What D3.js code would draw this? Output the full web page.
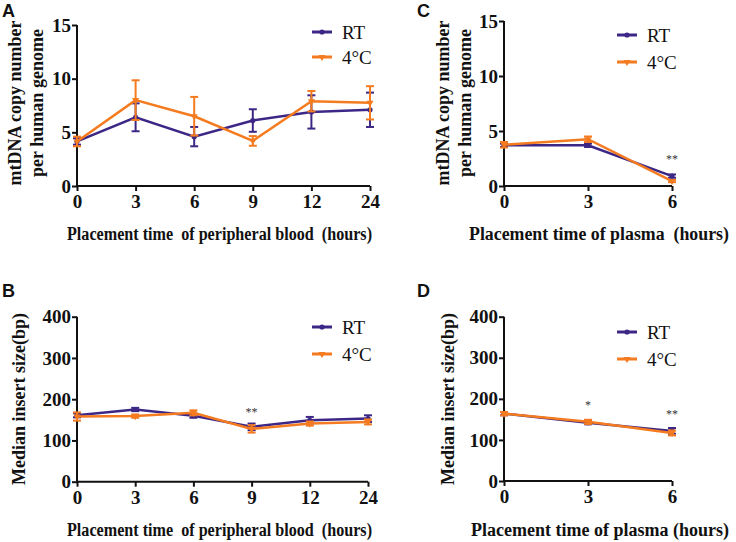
<!DOCTYPE html>
<html><head><meta charset="utf-8">
<script src="https://d3js.org/d3.v7.min.js"></script>
<style>
html,body{margin:0;padding:0;background:#fff;}
svg{display:block;}
text{font-family:"Liberation Serif","Times New Roman",serif;}
</style></head>
<body>
<script>
// ---- data ----
const timesBlood = ["0","3","6","9","12","24"];
const timesPlasma = ["0","3","6"];

const mtBloodRT = [4.15, 6.4, 4.6, 6.1, 6.9, 7.1];
const mtBloodRTsd = [0.3, 1.3, 0.9, 1.05, 1.55, 1.6];
const mtBlood4C = [4.15, 8.0, 6.5, 4.2, 7.9, 7.75];
const mtBlood4Csd = [0.45, 1.85, 1.8, 0.45, 0.95, 1.55];

const mtPlasmaRT = [3.7, 3.7, 0.9];
const mtPlasmaRTsd = [0.15, 0.15, 0.15];
const mtPlasma4C = [3.75, 4.25, 0.45];
const mtPlasma4Csd = [0.25, 0.25, 0.1];

const isBloodRT = [161, 175, 160, 133, 149, 153];
const isBloodRTsd = [5, 4, 5, 8, 8, 8];
const isBlood4C = [158, 159, 167, 128, 141, 145];
const isBlood4Csd = [10, 4, 6, 9, 5, 6];

const isPlasmaRT = [164, 142, 122];
const isPlasmaRTsd = [4, 4, 7];
const isPlasma4C = [164, 144, 117];
const isPlasma4Csd = [4, 5, 6];

const mtTicks = [0, 5, 10, 15];
const isTicks = [0, 100, 200, 300, 400];
const seriesNames = ["RT", "4\u00B0C"];
const colors = ["#3d2786", "#f47b20"];

const W = 736, H = 542;
const SERIF = '"Liberation Serif","Times New Roman",serif';
const svg = d3.select("body").append("svg").attr("width", W).attr("height", H);

function drawPanel(p) {
  const g = svg.append("g");
  const x = d3.scalePoint().domain(p.times).range([p.x0, p.x1]);
  const y = d3.scaleLinear().domain([0, p.ymax]).range([p.y0, p.y1]);

  // axes
  const xa = g.append("g").attr("transform", `translate(0,${p.y0})`)
    .call(d3.axisBottom(x).tickSize(5).tickPadding(4));
  const ya = g.append("g").attr("transform", `translate(${p.x0},0)`)
    .call(d3.axisLeft(y).tickValues(p.ticks).tickSize(5).tickPadding(1).tickFormat(d3.format("d")));
  [xa, ya].forEach(a => {
    a.attr("font-family", SERIF);
    a.select(".domain").attr("stroke", "#111").attr("stroke-width", 2);
    a.selectAll(".tick line").attr("stroke", "#111").attr("stroke-width", 2);
    a.selectAll(".tick text").attr("fill", "#111").style("font-size", "19px")
      .style("font-weight", "bold").style("font-family", SERIF);
  });
  xa.select(".domain").attr("d", `M${p.x0},0H${p.x1}`);
  ya.select(".domain").attr("d", `M0,${p.y0}V${p.y1}`);

  // series
  p.series.forEach((s, i) => {
    const col = colors[i];
    const line = d3.line().x((d, j) => x(p.times[j])).y(d => y(d));
    const eg = g.append("g");
    s.vals.forEach((v, j) => {
      const cx = x(p.times[j]);
      const sd = s.sd[j];
      eg.append("line").attr("x1", cx).attr("x2", cx).attr("y1", y(v - sd)).attr("y2", y(v + sd))
        .attr("stroke", col).attr("stroke-width", 2);
      [v - sd, v + sd].forEach(e => eg.append("line").attr("x1", cx - 4).attr("x2", cx + 4)
        .attr("y1", y(e)).attr("y2", y(e)).attr("stroke", col).attr("stroke-width", 2));
    });
    g.append("path").datum(s.vals).attr("d", line).attr("fill", "none")
      .attr("stroke", col).attr("stroke-width", 2.5);
    s.vals.forEach((v, j) => {
      const cx = x(p.times[j]), cy = y(v);
      if (i === 0) g.append("circle").attr("cx", cx).attr("cy", cy).attr("r", 2.6).attr("fill", col);
      else g.append("path").attr("d", d3.symbol(d3.symbolTriangle, 22)())
        .attr("transform", `translate(${cx},${cy}) rotate(180)`).attr("fill", col);
    });
  });

  // significance
  p.sig.forEach(s => {
    g.append("text").attr("x", x(s.t)).attr("y", s.y).attr("text-anchor", "middle")
      .style("font-size", "12px").attr("fill", "#333").text(s.label);
  });

  // legend
  seriesNames.forEach((n, i) => {
    const ly = p.legY + i * p.legGap;
    g.append("line").attr("x1", p.legX).attr("x2", p.legX + 20).attr("y1", ly).attr("y2", ly)
      .attr("stroke", colors[i]).attr("stroke-width", 3);
    if (i === 0) g.append("circle").attr("cx", p.legX + 10).attr("cy", ly).attr("r", 2.6).attr("fill", colors[i]);
    else g.append("path").attr("d", d3.symbol(d3.symbolTriangle, 22)())
      .attr("transform", `translate(${p.legX + 10},${ly}) rotate(180)`).attr("fill", colors[i]);
    g.append("text").attr("x", p.legX + 30).attr("y", ly).attr("dy", "0.36em")
      .style("font-size", "19px").attr("fill", "#111").text(n);
  });

  // y title
  p.ytitle.forEach((t, k) => {
    g.append("text").attr("transform", `translate(${p.ytx[k]},${p.ytcy}) rotate(-90)`)
      .attr("text-anchor", "middle").attr("dy", "0.35em")
      .attr("textLength", p.ytlen[k]).attr("lengthAdjust", "spacingAndGlyphs")
      .style("font-size", "19px").style("font-weight", "bold").attr("fill", "#111").text(t);
  });
  // x title
  g.append("text").attr("x", p.xtx).attr("y", p.xty).attr("text-anchor", "middle")
    .attr("xml:space", "preserve").style("white-space", "pre")
    .attr("textLength", p.xtlen).attr("lengthAdjust", "spacingAndGlyphs")
    .style("font-size", "18px").style("font-weight", "bold").attr("fill", "#111").text(p.xtitle);

  // panel label
  g.append("text").attr("x", p.lx).attr("y", p.ly)
    .style("font-family", '"Liberation Sans",Arial,sans-serif').style("font-size", "18px")
    .style("font-weight", "bold").attr("fill", "#111").text(p.label);
}

drawPanel({
  label: "A", lx: 2, ly: 17,
  times: timesBlood, x0: 77, x1: 370, y0: 186, y1: 25, ymax: 15, ticks: mtTicks,
  series: [{vals: mtBloodRT, sd: mtBloodRTsd}, {vals: mtBlood4C, sd: mtBlood4Csd}],
  sig: [], legX: 312, legY: 32, legGap: 25,
  ytitle: ["mtDNA copy number", "per human genome"], ytx: [14, 36], ytlen: [165, 148], ytcy: 103,
  xtitle: "Placement time  of peripheral blood  (hours)", xtx: 219.5, xty: 240, xtlen: 305
});
drawPanel({
  label: "C", lx: 417, ly: 17,
  times: timesPlasma, x0: 504, x1: 672, y0: 186, y1: 21, ymax: 15, ticks: mtTicks,
  series: [{vals: mtPlasmaRT, sd: mtPlasmaRTsd}, {vals: mtPlasma4C, sd: mtPlasma4Csd}],
  sig: [{t: "6", y: 163, label: "**"}], legX: 617, legY: 35, legGap: 27,
  ytitle: ["mtDNA copy number", "per human genome"], ytx: [442, 464], ytlen: [165, 148], ytcy: 103,
  xtitle: "Placement time of plasma  (hours)", xtx: 599, xty: 240, xtlen: 260
});
drawPanel({
  label: "B", lx: 2, ly: 297,
  times: timesBlood, x0: 77, x1: 368, y0: 481.7, y1: 316.7, ymax: 400, ticks: isTicks,
  series: [{vals: isBloodRT, sd: isBloodRTsd}, {vals: isBlood4C, sd: isBlood4Csd}],
  sig: [{t: "9", y: 416, label: "**"}], legX: 312, legY: 327, legGap: 27,
  ytitle: ["Median insert size(bp)"], ytx: [18], ytlen: [172], ytcy: 399,
  xtitle: "Placement time  of peripheral blood  (hours)", xtx: 219.5, xty: 536, xtlen: 305
});
drawPanel({
  label: "D", lx: 417, ly: 297,
  times: timesPlasma, x0: 504, x1: 672, y0: 481, y1: 316.7, ymax: 400, ticks: isTicks,
  series: [{vals: isPlasmaRT, sd: isPlasmaRTsd}, {vals: isPlasma4C, sd: isPlasma4Csd}],
  sig: [{t: "3", y: 409, label: "*"}, {t: "6", y: 418, label: "**"}], legX: 617, legY: 332, legGap: 27,
  ytitle: ["Median insert size(bp)"], ytx: [447], ytlen: [172], ytcy: 399,
  xtitle: "Placement time of plasma (hours)", xtx: 600, xty: 536, xtlen: 258
});
</script>
</body></html>
